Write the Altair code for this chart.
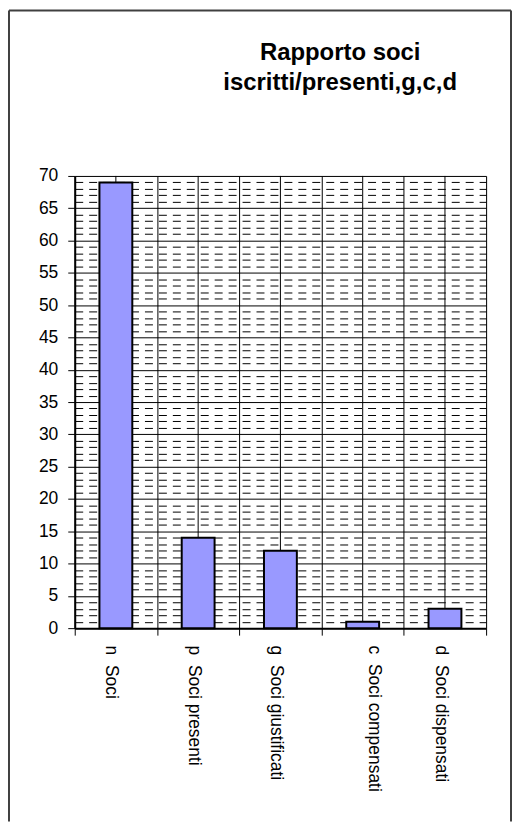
import altair as alt
import pandas as pd

categories = ["n\u00a0 Soci", "p\u00a0 Soci presenti", "g\u00a0 Soci giustificati",
              "c\u00a0 Soci compensati", "d\u00a0 Soci dispensati"]
values = [69, 14, 12, 1, 3]
y_ticks = list(range(0, 71))
title_lines = ["Rapporto soci", "iscritti/presenti,g,c,d"]

df = pd.DataFrame({"cat": categories, "val": values})
FONT = "Liberation Sans"

major = "datum.value % 5 == 0"
is_c = "test(/compensati/, datum.value + '')"

x_axis = alt.Axis(
    title=None, tickBand="extent", grid=True, gridColor="black", gridWidth=1,
    domainColor="black", domainWidth=2, tickColor="black", tickSize=7, tickWidth=1,
    labelAngle=90, labelAlign="left", labelBaseline="middle", labelFontSize=17.5,
    labelFont=FONT, labelColor="black", labelPadding=10,
    labelOffset={"condition": {"test": is_c, "value": 11}, "value": -5},
)
y_axis = alt.Axis(
    title=None, values=y_ticks, labelExpr="datum.value % 5 == 0 ? datum.label : ''",
    labelOverlap=False, labelFlush=False, grid=True, gridColor="black", gridWidth=1,
    gridDash={"condition": {"test": major, "value": []}, "value": [8, 6]},
    tickSize=7, tickColor="black", tickWidth=1,
    tickOpacity={"condition": {"test": major, "value": 1}, "value": 0},
    domainColor="black", domainWidth=2, labelFontSize=17.5, labelFont=FONT,
    labelColor="black", labelPadding=10,
)

x_enc = alt.X("cat:N", sort=categories,
              scale=alt.Scale(paddingInner=0, paddingOuter=0), axis=x_axis)

one = alt.Data(values=[{"a": 1}])
FR = dict(color="#404040", strokeWidth=2, clip=False)
frame_left = alt.Chart(one).mark_rule(**FR).encode(
    x=alt.value(-66), y=alt.value(-166), y2=alt.value(648))
frame_right = alt.Chart(one).mark_rule(**FR).encode(
    x=alt.value(438), y=alt.value(-166), y2=alt.value(648))
frame_top = alt.Chart(one).mark_rule(**FR).encode(
    x=alt.value(-66), x2=alt.value(438), y=alt.value(-166))

centers = alt.Chart(df).mark_rule(color="black", strokeWidth=1).encode(x=x_enc)

bars = alt.Chart(df).mark_bar(
    fill="#9999FF", stroke="black", strokeWidth=2, size=33
).encode(
    x=x_enc,
    y=alt.Y("val:Q", scale=alt.Scale(domain=[0, 70], nice=False), axis=y_axis),
)

chart = alt.layer(frame_left, frame_right, frame_top, centers, bars).properties(
    width=413, height=454,
    padding={"left": 0, "top": 0, "right": 0, "bottom": 0},
    title=alt.Title(title_lines, fontSize=24, font=FONT, fontWeight="bold",
                    anchor="middle", dx=60, lineHeight=30, offset=-86, color="black"),
).configure_view(stroke="black", strokeWidth=2).configure(background="white")

chart.save("out.html", embed_options={"renderer": "svg", "actions": False})
